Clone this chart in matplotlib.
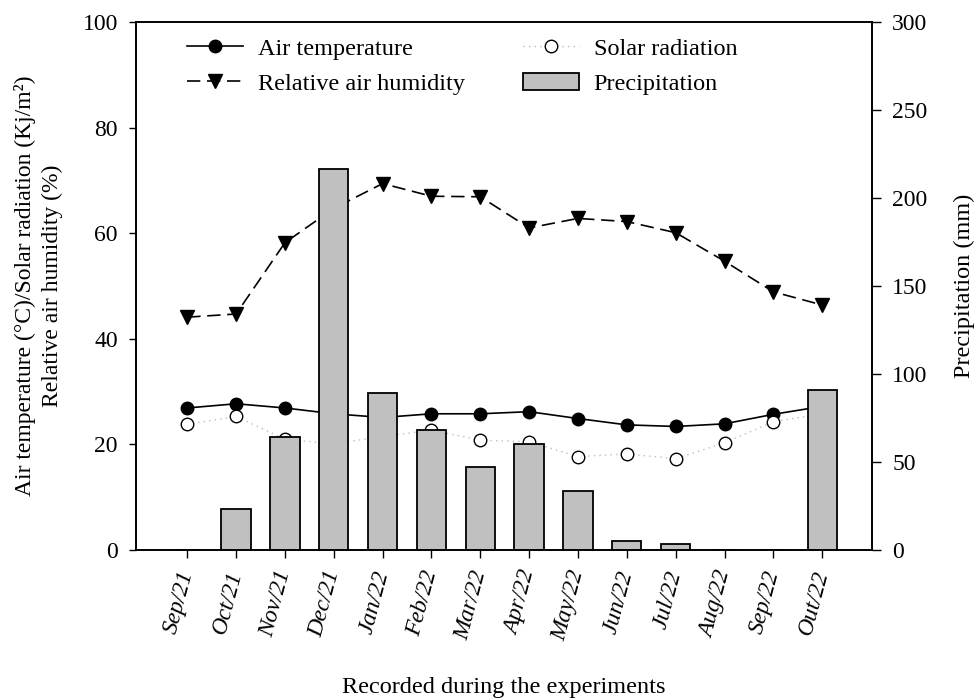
import matplotlib
matplotlib.use("Agg")
import matplotlib.pyplot as plt
import numpy as np

plt.rcParams['font.family'] = ['Liberation Serif', 'DejaVu Serif']
plt.rcParams['mathtext.fontset'] = 'stix'

months = ["Sep/21", "Oct/21", "Nov/21", "Dec/21", "Jan/22", "Feb/22", "Mar/22",
          "Apr/22", "May/22", "Jun/22", "Jul/22", "Aug/22", "Sep/22", "Out/22"]
air_temperature = [26.9, 27.7, 26.9, 25.8, 25.1, 25.8, 25.8, 26.2, 24.9, 23.7,
                   23.4, 23.9, 25.7, 27.2]
solar_radiation = [23.8, 25.3, 21.0, 20.1, 21.5, 22.7, 20.8, 20.5, 17.7, 18.2,
                   17.3, 20.3, 24.3, 25.8]
relative_humidity = [44.1, 44.7, 58.2, 64.7, 69.4, 67.0, 66.9, 61.0, 62.8, 62.2,
                     60.1, 54.7, 48.9, 46.4]
precipitation = [0.0, 23.5, 64.4, 216.3, 89.2, 68.2, 47.3, 60.0, 33.5, 5.3,
                 3.6, 0.0, 0.0, 91.1]

x = np.arange(len(months))

fig = plt.figure(figsize=(9.74, 6.98), dpi=100)
ax = fig.add_axes([0.1396, 0.2120, 0.7557, 0.7565])
ax2 = ax.twinx()

l_temp, = ax.plot(x, air_temperature, color='black', lw=1.2, marker='o',
                  markersize=9, markerfacecolor='black', markeredgecolor='black',
                  label='Air temperature')
l_solar, = ax.plot(x, solar_radiation, color='#bdbdbd', lw=1.0, linestyle=(0, (1, 3)),
                   marker='o', markersize=9, markerfacecolor='white',
                   markeredgecolor='black', markeredgewidth=1.0,
                   label='Solar radiation')
l_hum, = ax.plot(x, relative_humidity, color='black', lw=1.2, linestyle=(0, (8, 4)),
                 marker='v', markersize=9.5, markerfacecolor='black',
                 markeredgecolor='black', label='Relative air humidity')

bars = ax2.bar(x, precipitation, width=0.6, color='#c0c0c0', edgecolor='black',
               linewidth=1.3, label='Precipitation')

ax.set_xlim(-1.05, 14.02)
ax.set_ylim(0, 100)
ax2.set_ylim(0, 300)
ax.set_yticks(np.arange(0, 101, 20))
ax2.set_yticks(np.arange(0, 301, 50))
ax.set_xticks(x)
ax.set_xticklabels(months, rotation=75, fontstyle='italic', fontsize=17,
                   ha='right', va='center', rotation_mode='anchor')

ax.tick_params(axis='y', labelsize=17, direction='out', length=5, width=1, pad=8)
ax2.tick_params(axis='y', labelsize=17, direction='out', length=6.5, width=1, pad=8)
ax.tick_params(axis='x', direction='out', length=6, width=1, pad=9)
for a in (ax, ax2):
    for s in a.spines.values():
        s.set_linewidth(1.2)

ax.set_ylabel("Air temperature (°C)/Solar radiation (Kj/m²)\nRelative air humidity (%)",
              fontsize=17, linespacing=1.35, labelpad=14)
ax2.set_ylabel("Precipitation (mm)", fontsize=17.5, labelpad=19)
ax.set_xlabel("Recorded during the experiments", fontsize=17.5, labelpad=24)

ax2.legend([l_temp, l_hum, l_solar, bars],
           ['Air temperature', 'Relative air humidity', 'Solar radiation', 'Precipitation'],
           ncol=2, frameon=False, fontsize=17.5, loc='upper left',
           bbox_to_anchor=(0.04, 1.012), handlelength=2.3, columnspacing=2.4,
           labelspacing=0.55, handletextpad=0.6)

fig.savefig("out.png", dpi=100)
